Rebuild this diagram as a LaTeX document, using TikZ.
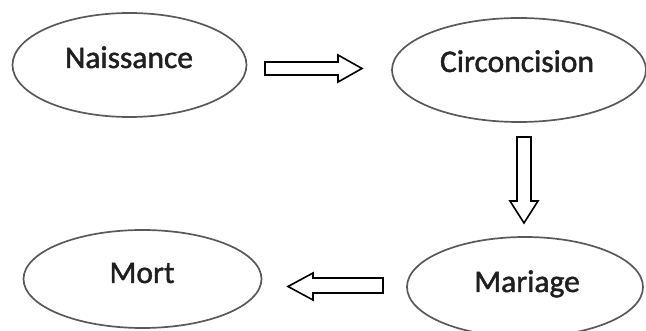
\documentclass[tikz,border=0pt]{standalone}
\usepackage{fontspec}
\setmainfont{Carlito}[FakeBold=1.5]
\usetikzlibrary{shapes.geometric}
\begin{document}
\begin{tikzpicture}[x=1pt,y=-1pt,
  oval/.style={draw=black!65,line width=1.7pt,ellipse,inner sep=0pt},
  lbl/.style={anchor=base,font=\fontsize{31.5}{36}\selectfont,text=black!88,inner sep=0pt},
  blockarrow/.style={draw=black,line width=1.6pt,fill=white,line join=miter}]
\useasboundingbox (0,0) rectangle (646,331);
\node[oval,minimum width=234pt,minimum height=104pt] (nais) at (129.5,65) {};
\node[oval,minimum width=254pt,minimum height=104pt] (circ) at (519,70) {};
\node[oval,minimum width=238pt,minimum height=98pt] (mort) at (142.5,279) {};
\node[oval,minimum width=236pt,minimum height=100pt] (mar) at (525,287) {};
\node[lbl] (tnais) at (129,68) {Naissance};
\node[lbl] (tcirc) at (517,72) {Circoncision};
\node[lbl] (tmort) at (142,283) {Mort};
\node[lbl] (tmar) at (527,292) {Mariage};
% right arrow
\draw[blockarrow] (265,62) -- (338,62) -- (338,55) -- (362,68.5) -- (338,82) -- (338,75) -- (265,75) -- cycle;
% down arrow
\draw[blockarrow] (517,137) -- (531,137) -- (531,201) -- (538,201) -- (524,223) -- (510,201) -- (517,201) -- cycle;
% left arrow
\draw[blockarrow] (383,278) -- (313,278) -- (313,273) -- (288,286.5) -- (313,300) -- (313,293) -- (383,293) -- cycle;
\end{tikzpicture}
\end{document}
